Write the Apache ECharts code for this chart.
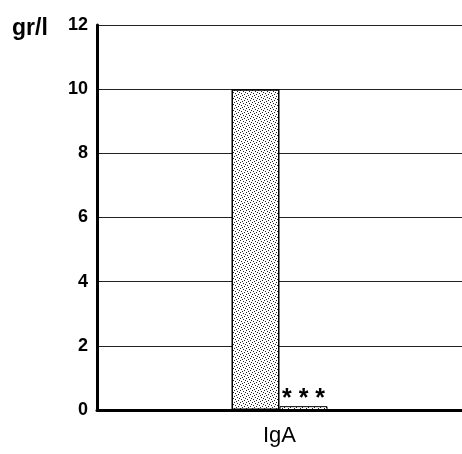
<!DOCTYPE html>
<html><head><meta charset="utf-8">
<script src="https://cdn.jsdelivr.net/npm/echarts@6/dist/echarts.min.js"></script>
<style>html,body{margin:0;padding:0;background:#fff}#c{width:462px;height:454px}</style>
</head><body><div id="c"></div>
<script>
var categories = ['IgA'];
var seriesA = [10];
var seriesB = [0.12];
var yTicks = [0, 2, 4, 6, 8, 10, 12];

function dots() {
  var c = document.createElement('canvas');
  c.width = 6; c.height = 6;
  var g = c.getContext('2d');
  g.fillStyle = '#fff'; g.fillRect(0, 0, 6, 6);
  g.fillStyle = '#222';
  [[0,0],[3,1],[1,3],[4,4],[5,2],[2,5]].forEach(function(p){ g.fillRect(p[0], p[1], 1, 1); });
  return c;
}
var pat = {image: dots(), repeat: 'repeat'};

var chart = echarts.init(document.getElementById('c'));
chart.setOption({
  animation: false,
  backgroundColor: '#fff',
  grid: {left: 97, top: 25, width: 368, height: 385, containLabel: false},
  graphic: [{type: 'text', left: 12, top: 17, style: {text: 'gr/l', font: 'bold 23px "Liberation Sans", Arial', fill: '#000'}}],
  xAxis: {
    type: 'category', data: categories,
    axisLine: {lineStyle: {color: '#000', width: 3}},
    axisTick: {show: false},
    axisLabel: {color: '#000', fontSize: 22, fontFamily: '"Liberation Sans", Arial', margin: 15}
  },
  yAxis: {
    type: 'value', min: yTicks[0], max: yTicks[yTicks.length - 1], interval: 2,
    axisLine: {show: true, lineStyle: {color: '#000', width: 3}},
    axisTick: {show: false},
    axisLabel: {color: '#000', fontSize: 18, fontWeight: 'bold', fontFamily: '"Liberation Sans", Arial', margin: 9},
    splitLine: {show: true, lineStyle: {color: '#222', width: 1}}
  },
  series: [
    {type: 'bar', data: seriesA, barWidth: 48, barGap: '0%',
     itemStyle: {color: pat, borderColor: '#000', borderWidth: 1.5}},
    {type: 'bar', data: seriesB, barWidth: 48, barGap: '0%',
     itemStyle: {color: pat, borderColor: '#000', borderWidth: 1},
     label: {show: true, position: 'top', formatter: '* * *', color: '#000', fontSize: 25, fontWeight: 'bold', fontFamily: '"Liberation Sans", Arial', distance: -5}}
  ]
});
</script></body></html>
